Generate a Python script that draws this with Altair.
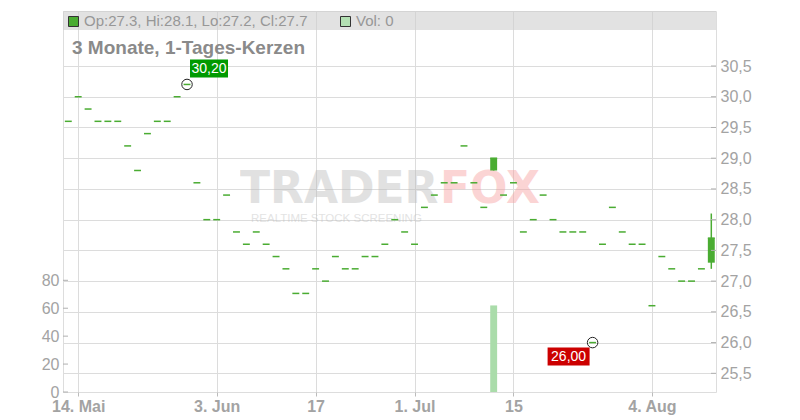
import altair as alt
import pandas as pd

# ---------------- data ----------------
idx = list(range(66))
closes = [29.6, 30.0, 29.8, 29.6, 29.6, 29.6, 29.2, 28.8, 29.4, 29.6,
          29.6, 30.0, 30.2, 28.6, 28.0, 28.0, 28.4, 27.8, 27.6, 27.8,
          27.6, 27.4, 27.2, 26.8, 26.8, 27.2, 27.0, 27.4, 27.2, 27.2,
          27.4, 27.4, 27.6, 28.0, 27.8, 27.6, 28.2, 28.4, 28.6, 28.6,
          29.2, 28.6, 28.2, 29.0, 28.4, 28.6, 27.8, 28.0, 28.4, 28.0,
          27.8, 27.8, 27.8, 26.0, 27.6, 28.2, 27.8, 27.6, 27.6, 26.6,
          27.4, 27.2, 27.0, 27.0, 27.2, 27.7]
opens = [29.6, 30.0, 29.8, 29.6, 29.6, 29.6, 29.2, 28.8, 29.4, 29.6,
         29.6, 30.0, 30.2, 28.6, 28.0, 28.0, 28.4, 27.8, 27.6, 27.8,
         27.6, 27.4, 27.2, 26.8, 26.8, 27.2, 27.0, 27.4, 27.2, 27.2,
         27.4, 27.4, 27.6, 28.0, 27.8, 27.6, 28.2, 28.4, 28.6, 28.6,
         29.2, 28.6, 28.2, 28.8, 28.4, 28.6, 27.8, 28.0, 28.4, 28.0,
         27.8, 27.8, 27.8, 26.0, 27.6, 28.2, 27.8, 27.6, 27.6, 26.6,
         27.4, 27.2, 27.0, 27.0, 27.2, 27.3]
highs = [29.6, 30.0, 29.8, 29.6, 29.6, 29.6, 29.2, 28.8, 29.4, 29.6,
         29.6, 30.0, 30.2, 28.6, 28.0, 28.0, 28.4, 27.8, 27.6, 27.8,
         27.6, 27.4, 27.2, 26.8, 26.8, 27.2, 27.0, 27.4, 27.2, 27.2,
         27.4, 27.4, 27.6, 28.0, 27.8, 27.6, 28.2, 28.4, 28.6, 28.6,
         29.2, 28.6, 28.2, 29.0, 28.4, 28.6, 27.8, 28.0, 28.4, 28.0,
         27.8, 27.8, 27.8, 26.0, 27.6, 28.2, 27.8, 27.6, 27.6, 26.6,
         27.4, 27.2, 27.0, 27.0, 27.2, 28.1]
lows = [29.6, 30.0, 29.8, 29.6, 29.6, 29.6, 29.2, 28.8, 29.4, 29.6,
        29.6, 30.0, 30.2, 28.6, 28.0, 28.0, 28.4, 27.8, 27.6, 27.8,
        27.6, 27.4, 27.2, 26.8, 26.8, 27.2, 27.0, 27.4, 27.2, 27.2,
        27.4, 27.4, 27.6, 28.0, 27.8, 27.6, 28.2, 28.4, 28.6, 28.6,
        29.2, 28.6, 28.2, 28.8, 28.4, 28.6, 27.8, 28.0, 28.4, 28.0,
        27.8, 27.8, 27.8, 26.0, 27.6, 28.2, 27.8, 27.6, 27.6, 26.6,
        27.4, 27.2, 27.0, 27.0, 27.2, 27.2]
volumes = [0, 0, 0, 0, 0, 0, 0, 0, 0, 0,
           0, 0, 0, 0, 0, 0, 0, 0, 0, 0,
           0, 0, 0, 0, 0, 0, 0, 0, 0, 0,
           0, 0, 0, 0, 0, 0, 0, 0, 0, 0,
           0, 0, 0, 62, 0, 0, 0, 0, 0, 0,
           0, 0, 0, 0, 0, 0, 0, 0, 0, 0,
           0, 0, 0, 0, 0, 0]
tick_idx = [1, 15, 25, 35, 45, 59]
tick_labels = ["14. Mai", "3. Jun", "17", "1. Jul", "15", "4. Aug"]
price_ticks = [25.5, 26.0, 26.5, 27.0, 27.5, 28.0, 28.5, 29.0, 29.5, 30.0, 30.5]
vol_ticks = [0, 20, 40, 60, 80]
title_text = "3 Monate, 1-Tages-Kerzen"
watermark_a = "TRADER"
watermark_b = "FOX"
watermark_c = "REALTIME STOCK SCREENING"

# ---------------- styling ----------------
W, H = 653, 381
FONT = "Liberation Sans"
GREEN = "#4aac32"
VOLGREEN = "#aadcaa"
LABEL = "#a3a3a3"
GRID = "#dcdcdc"

df = pd.DataFrame({"i": idx, "o": opens, "h": highs, "l": lows, "c": closes, "v": volumes})
df["xl"] = df["i"] - 0.35
df["xr"] = df["i"] + 0.35

xscale = alt.Scale(domain=[-0.536, 65.475], nice=False, zero=False)
pscale = alt.Scale(domain=[25.196, 31.395], nice=False, zero=False)
vscale = alt.Scale(domain=[0, 272.9], nice=False, zero=False)

x_expr = " : ".join(f"datum.value == {i} ? '{lab}'" for i, lab in zip(tick_idx, tick_labels)) + " : ''"
x_axis = alt.Axis(values=tick_idx, labelExpr=x_expr, title=None, grid=True, gridColor=GRID,
                  tickColor="#bbbbbb", tickSize=4, domain=False, labelFont=FONT,
                  labelFontWeight="bold", labelFontSize=16, labelColor=LABEL, labelPadding=2,
                  labelFlush=False, labelOverlap=False)
p_axis = alt.Axis(orient="right", values=price_ticks,
                  labelExpr="replace(format(datum.value, '.1f'), '.', ',')",
                  title=None, grid=True, gridColor=GRID, ticks=False, domain=False,
                  labelFont=FONT, labelFontSize=16, labelColor=LABEL, labelPadding=4,
                  labelFlush=False, labelOverlap=False)
v_axis = alt.Axis(orient="left", values=vol_ticks, title=None, grid=False, ticks=False,
                  domain=False, labelFont=FONT, labelFontSize=16, labelColor=LABEL,
                  labelPadding=4, labelFlush=False, labelOverlap=False)

X = alt.X("i:Q", scale=xscale, axis=x_axis)
Xl = alt.X("xl:Q", scale=xscale, axis=x_axis)


def PY(field):
    return alt.Y(field, scale=pscale, axis=p_axis)


base = alt.Chart(df)
one = pd.DataFrame({"k": [0]})

# ---------------- decorations ----------------
wm1 = alt.Chart(one).mark_text(text=watermark_a, font="DejaVu Sans", fontWeight="bold", fontSize=44,
                               align="left", baseline="alphabetic", color="#bdbdbd",
                               opacity=0.45).encode(x=alt.value(177), y=alt.value(192))
wm2 = alt.Chart(one).mark_text(text=watermark_b, font="DejaVu Sans", fontWeight="bold", fontSize=44,
                               align="left", baseline="alphabetic", color="#f79a9a",
                               opacity=0.42).encode(x=alt.value(377), y=alt.value(192))
wm3 = alt.Chart(one).mark_text(text=watermark_c, font=FONT, fontSize=11.5, align="left",
                               baseline="alphabetic", color="#bdbdbd",
                               opacity=0.42).encode(x=alt.value(188), y=alt.value(211))

legend_bar = alt.Chart(one).mark_rect(color="#cfcfcf", opacity=0.6).encode(
    x=alt.value(0), x2=alt.value(W), y=alt.value(0), y2=alt.value(19))
sq1 = alt.Chart(one).mark_rect(color=GREEN, stroke="#333333", strokeWidth=1).encode(
    x=alt.value(5.5), x2=alt.value(15.5), y=alt.value(5.5), y2=alt.value(15.5))
sq2 = alt.Chart(one).mark_rect(color="#b3e0b3", stroke="#333333", strokeWidth=1).encode(
    x=alt.value(277.5), x2=alt.value(287.5), y=alt.value(5.5), y2=alt.value(15.5))
legend_txt = (f"Op:{opens[-1]}, Hi:{highs[-1]}, Lo:{lows[-1]}, Cl:{closes[-1]}")
lt1 = alt.Chart(one).mark_text(text=legend_txt, font=FONT, fontSize=15, align="left",
                               baseline="alphabetic", color="#979797").encode(
    x=alt.value(21), y=alt.value(15))
lt2 = alt.Chart(one).mark_text(text=f"Vol: {volumes[-1]}", font=FONT, fontSize=15, align="left",
                               baseline="alphabetic", color="#979797").encode(
    x=alt.value(293), y=alt.value(15))
title = alt.Chart(one).mark_text(text=title_text, font=FONT, fontSize=19, fontWeight="bold",
                                 align="left", baseline="alphabetic", color="#8a8a8a").encode(
    x=alt.value(9), y=alt.value(43))

# ---------------- price marks ----------------
dashes = base.mark_rule(color=GREEN, strokeWidth=1.5).encode(x=Xl, x2="xr:Q", y=PY("c:Q"))
wicks = base.transform_filter("datum.h > datum.l").mark_rule(color=GREEN, strokeWidth=1.5).encode(
    x=X, y=PY("h:Q"), y2="l:Q")
bodies = base.transform_filter("datum.o != datum.c").mark_bar(color=GREEN).encode(
    x=Xl, x2="xr:Q", y=PY("o:Q"), y2="c:Q")

hi_i = int(df["h"].idxmax())
lo_i = int(df["l"].idxmin())
mx = pd.DataFrame({"i": [hi_i], "p": [highs[hi_i]],
                   "t": [f"{highs[hi_i]:.2f}".replace(".", ",")]})
mn = pd.DataFrame({"i": [lo_i], "p": [lows[lo_i]],
                   "t": [f"{lows[lo_i]:.2f}".replace(".", ",")]})
mk = pd.concat([mx, mn])

circles = alt.Chart(mk).mark_point(shape="circle", filled=False, size=110, color="#222222",
                                   strokeWidth=1, opacity=1).encode(x=X, y=PY("p:Q"))
mx_box = alt.Chart(mx).mark_rect(color="#009a00", xOffset=3, x2Offset=41, yOffset=-25,
                                 y2Offset=-7).encode(x=X, x2="i:Q", y=PY("p:Q"), y2="p:Q")
mx_txt = alt.Chart(mx).mark_text(color="white", font=FONT, fontSize=14, dx=22, dy=-15.5,
                                 align="center", baseline="middle").encode(
    x=X, y=PY("p:Q"), text="t:N")
mn_box = alt.Chart(mn).mark_rect(color="#cc0000", xOffset=-45, x2Offset=-3, yOffset=5,
                                 y2Offset=23).encode(x=X, x2="i:Q", y=PY("p:Q"), y2="p:Q")
mn_txt = alt.Chart(mn).mark_text(color="white", font=FONT, fontSize=14, dx=-24, dy=14.5,
                                 align="center", baseline="middle").encode(
    x=X, y=PY("p:Q"), text="t:N")

pticks = alt.Chart(pd.DataFrame({"p": price_ticks})).mark_rule(color="#b0b0b0").encode(
    x=alt.value(W - 5), x2=alt.value(W), y=PY("p:Q"))

# ---------------- volume marks ----------------
VY = alt.Y("v:Q", scale=vscale, axis=v_axis)
vol = base.transform_filter("datum.v > 0").mark_bar(color=VOLGREEN).encode(
    x=Xl, x2="xr:Q", y=VY, y2=alt.datum(0))
vticks = alt.Chart(pd.DataFrame({"v": vol_ticks})).mark_rule(color="#b0b0b0").encode(
    x=alt.value(0), x2=alt.value(5), y=VY)

vol_group = alt.layer(vol, vticks)
price_group = alt.layer(wm1, wm2, wm3, legend_bar, sq1, sq2, lt1, lt2, title,
                        dashes, wicks, bodies, circles, mx_box, mx_txt, mn_box, mn_txt, pticks)

chart = alt.layer(vol_group, price_group).resolve_scale(y="independent").properties(
    width=W, height=H,
    autosize=alt.AutoSizeParams(type="none"),
    padding={"left": 55, "top": 3, "right": 76, "bottom": 24},
).configure_view(stroke="#bbbbbb", strokeWidth=1).configure(font=FONT)

chart.save("out.html", embed_options={"renderer": "svg", "actions": False})
